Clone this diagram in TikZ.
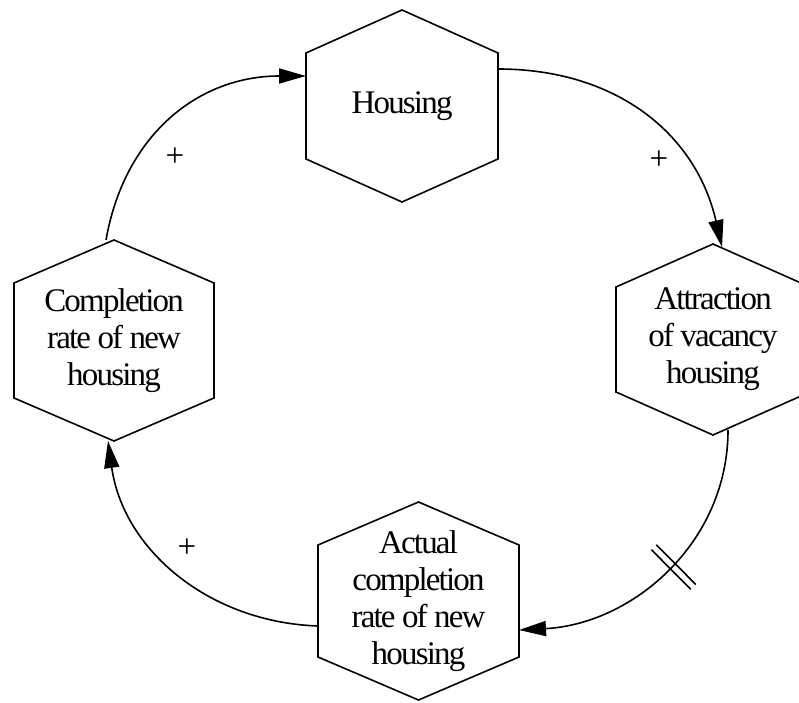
\documentclass[tikz,border=0pt]{standalone}
\usepackage{fontspec}
\setmainfont{Liberation Serif}[LetterSpace=-5.5]
\usepackage{tikz}
\usetikzlibrary{arrows.meta}
\usetikzlibrary{decorations.markings}

\newcommand{\hexagon}[1]{%
  \draw[hexline] (#1.north) -- ([yshift=-43pt]#1.north east) -- ([yshift=43pt]#1.south east)
    -- (#1.south) -- ([yshift=43pt]#1.south west) -- ([yshift=-43pt]#1.north west) -- cycle;}

\begin{document}
\begin{tikzpicture}[x=1pt,y=1pt,
  every node/.style={inner sep=0pt,outer sep=0pt,font=\fontsize{33}{37}\selectfont},
  hexnode/.style 2 args={align=center,minimum width=#1,minimum height=#2},
  hexline/.style={line width=1.6pt},
  link/.style={line width=1.6pt,-{Triangle[length=27pt,width=15pt]}},
  delay/.style={postaction={decorate},decoration={markings,mark=at position 0.47 with {
      \draw[-,line width=1.6pt] (-3.5,-25) -- (-3.5,31);
      \draw[-,line width=1.6pt] (3.5,-25) -- (3.5,31);}}}]
  \clip (0,0) rectangle (799,702);

  \node[hexnode={192}{192}] (housing) at (402,596) {Housing};
  \node[hexnode={194}{191}] (attraction) at (713,362.5) {Attraction\\of vacancy\\housing};
  \node[hexnode={201}{198}] (actual) at (418.5,101) {Actual\\completion\\rate of new\\housing};
  \node[hexnode={200}{201}] (completion) at (114,361.5) {Completion\\rate of new\\housing};

  \foreach \n in {housing,attraction,actual,completion} {\hexagon{\n}}

  \draw[link] ([xshift=-8pt]completion.north) to[out=80,in=180,looseness=1.06] ([yshift=30pt]housing.west);
  \draw[link] ([yshift=37pt]housing.east) to[out=0,in=103,looseness=1.05] ([xshift=9pt,yshift=-3pt]attraction.north);
  \draw[link,delay] ([xshift=15pt,yshift=5pt]attraction.south) to[out=-90,in=3] ([yshift=-29pt]actual.east);
  \draw[link] ([yshift=-25pt]actual.west) to[out=178,in=-82] ([xshift=-6pt]completion.south);

  \node (plus1) at (175,545) {+};
  \node (plus2) at (659,542) {+};
  \node (plus3) at (187,154) {+};
\end{tikzpicture}
\end{document}
